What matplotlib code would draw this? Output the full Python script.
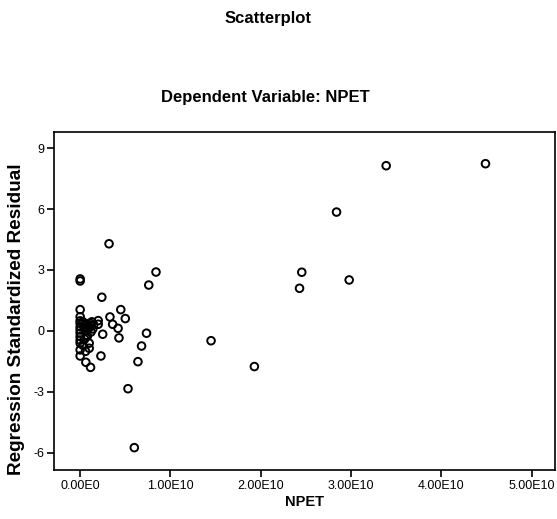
import matplotlib.pyplot as plt

# predicted NPET values (x) and standardized residuals (y)
npet_pred = [
    3.39e10, 4.49e10, 2.84e10, 2.455e10, 2.43e10, 2.98e10, 1.93e10,
    0.32e10, 0.0, 0.0, 0.84e10, 0.76e10, 0.24e10, 0.0, 0.45e10,
    0.50e10, 0.33e10, 0.36e10, 0.42e10, 0.20e10, 0.20e10, 0.25e10,
    0.43e10, 0.735e10, 1.45e10, 0.68e10, 0.64e10, 0.23e10, 0.063e10,
    0.115e10, 0.0, 0.10e10, 0.10e10, 0.53e10, 0.60e10,
    # cluster near zero
    0.0, 0.0, 0.0, 0.0, 0.0, 0.0, 0.0, 0.0, 0.0, 0.0,
    0.03e10, 0.04e10, 0.05e10, 0.06e10, 0.07e10, 0.08e10, 0.09e10,
    0.11e10, 0.12e10, 0.13e10, 0.14e10, 0.15e10, 0.05e10, 0.08e10,
    0.03e10, 0.06e10, 0.10e10, 0.12e10,
]
std_resid = [
    8.13, 8.23, 5.85, 2.89, 2.10, 2.51, -1.75,
    4.29, 2.56, 2.46, 2.90, 2.26, 1.66, 1.05, 1.05,
    0.61, 0.69, 0.33, 0.13, 0.51, 0.33, -0.16,
    -0.34, -0.11, -0.48, -0.74, -1.51, -1.23, -1.54,
    -1.79, -1.23, -0.85, -0.60, -2.84, -5.74,
    0.70, 0.50, 0.38, 0.20, 0.05, -0.10, -0.28, -0.45, -0.60, -0.93,
    0.45, 0.30, 0.15, 0.0, -0.20, 0.35, 0.10,
    0.38, 0.25, 0.45, 0.10, 0.30, -0.40, -0.25,
    -0.70, -1.00, 0.20, -0.05,
]

x_ticks = [0, 1e10, 2e10, 3e10, 4e10, 5e10]
x_tick_labels = ["0.00E0", "1.00E10", "2.00E10", "3.00E10", "4.00E10", "5.00E10"]
y_ticks = [-6, -3, 0, 3, 6, 9]

plt.rcParams['font.family'] = ['Liberation Sans', 'DejaVu Sans']
plt.rcParams['axes.unicode_minus'] = False

fig = plt.figure(figsize=(5.57, 5.19), dpi=100)
ax = fig.add_axes([0.0969, 0.0944, 0.8995, 0.6513])

ax.scatter(npet_pred, std_resid, s=30, facecolors='none', edgecolors='black',
           linewidths=1.4)

ax.set_xlim(-0.29e10, 5.26e10)
ax.set_ylim(-6.84, 9.79)
ax.set_xticks(x_ticks)
ax.set_xticklabels(x_tick_labels)
ax.set_yticks(y_ticks)
ax.tick_params(axis='both', direction='out', length=5, width=1.2, labelsize=9, pad=2)
for sp in ax.spines.values():
    sp.set_linewidth(1.2)

ax.set_xlabel('NPET', fontsize=10.5, fontweight='bold', labelpad=2)
ax.set_ylabel('Regression Standardized Residual', fontsize=13.7, fontweight='bold')
ax.yaxis.set_label_coords(-0.058, 0.447)

fig.text(0.482, 0.965, 'Scatterplot', ha='center', va='center', fontsize=12, fontweight='bold')
fig.text(0.476, 0.813, 'Dependent Variable: NPET', ha='center', va='center',
         fontsize=12, fontweight='bold')

fig.savefig('out.png', dpi=100)
